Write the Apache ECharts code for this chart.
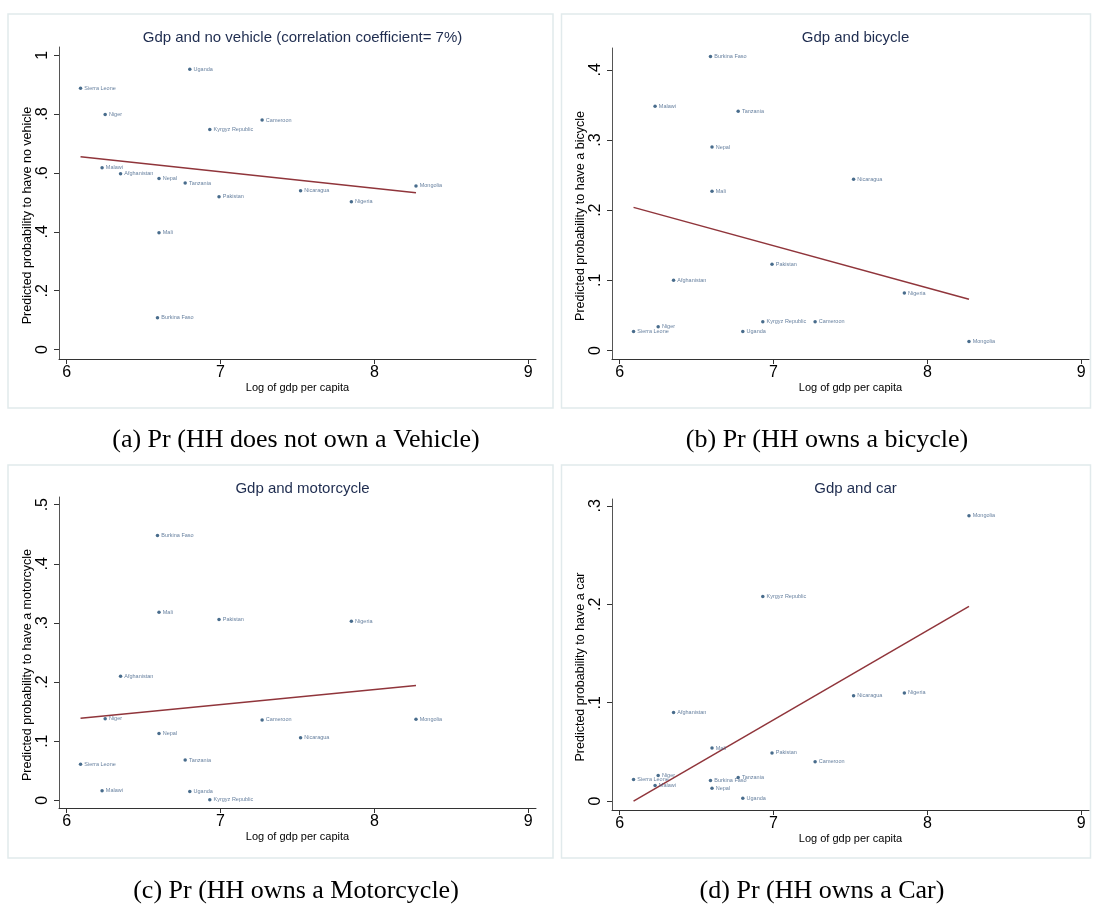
<!DOCTYPE html>
<html>
<head>
<meta charset="utf-8">
<script src="https://cdn.jsdelivr.net/npm/echarts@6/dist/echarts.min.js"></script>
<style>
  html, body { margin: 0; padding: 0; background: #fff; }
  #chart { width: 1094px; height: 905px; }
</style>
</head>
<body>
<div id="chart"></div>
<script>
// countries, log of gdp per capita (x), and predicted probabilities (y)
const countries = ['Afghanistan', 'Burkina Faso', 'Cameroon', 'Kyrgyz Republic', 'Malawi', 'Mali', 'Mongolia',
  'Nepal', 'Nicaragua', 'Niger', 'Nigeria', 'Pakistan', 'Sierra Leone', 'Tanzania', 'Uganda']
const logGdp = [6.35, 6.59, 7.27, 6.93, 6.23, 6.60, 8.27, 6.60, 7.52, 6.25, 7.85, 6.99, 6.09, 6.77, 6.80]
const pNoVehicle = [0.597, 0.108, 0.780, 0.748, 0.618, 0.397, 0.556, 0.581, 0.540, 0.799, 0.502, 0.519, 0.888, 0.566, 0.952]
const pBicycle = [0.100, 0.419, 0.041, 0.041, 0.348, 0.227, 0.013, 0.290, 0.244, 0.034, 0.082, 0.123, 0.027, 0.341, 0.027]
const pMotorcycle = [0.210, 0.448, 0.136, 0.001, 0.016, 0.318, 0.137, 0.113, 0.106, 0.138, 0.303, 0.306, 0.061, 0.068, 0.015]
const pCar = [0.090, 0.021, 0.040, 0.208, 0.016, 0.054, 0.290, 0.013, 0.107, 0.026, 0.110, 0.049, 0.022, 0.024, 0.003]

// fitted lines: endpoints at the lowest and highest gdp
const fitX = [6.09, 8.27]
const fitNoVehicle = [0.655, 0.533]
const fitBicycle = [0.204, 0.073]
const fitMotorcycle = [0.139, 0.194]
const fitCar = [0.0, 0.198]

// tick labels
const xTicks = [6, 7, 8, 9]
const yTicksNoVehicle = [0, 0.2, 0.4, 0.6, 0.8, 1]
const yTicksBicycle = [0, 0.1, 0.2, 0.3, 0.4]
const yTicksMotorcycle = [0, 0.1, 0.2, 0.3, 0.4, 0.5]
const yTicksCar = [0, 0.1, 0.2, 0.3]

const panels = [
  {
    title: 'Gdp and no vehicle (correlation coefficient= 7%)', yName: 'Predicted probability to have no vehicle',
    caption: '(a) Pr (HH does not own a Vehicle)', values: pNoVehicle, fit: fitNoVehicle, yTicks: yTicksNoVehicle,
    grid: { left: 59, top: 47, width: 477, height: 312 }, yMin: -0.032, yMax: 1.028,
    frame: { x: 8, y: 14, width: 545, height: 394 }, titleY: 25, captionX: 291, captionY: 422,
  },
  {
    title: 'Gdp and bicycle', yName: 'Predicted probability to have a bicycle',
    caption: '(b) Pr (HH owns a bicycle)', values: pBicycle, fit: fitBicycle, yTicks: yTicksBicycle,
    grid: { left: 612, top: 48, width: 477, height: 311 }, yMin: -0.012, yMax: 0.431,
    frame: { x: 561.5, y: 14, width: 529, height: 394 }, titleY: 25, captionX: 822, captionY: 422,
  },
  {
    title: 'Gdp and motorcycle', yName: 'Predicted probability to have a motorcycle',
    caption: '(c) Pr (HH owns a Motorcycle)', values: pMotorcycle, fit: fitMotorcycle, yTicks: yTicksMotorcycle,
    grid: { left: 59, top: 497, width: 477, height: 311 }, yMin: -0.013, yMax: 0.513,
    frame: { x: 8, y: 465, width: 545, height: 393 }, titleY: 476, captionX: 291, captionY: 873,
  },
  {
    title: 'Gdp and car', yName: 'Predicted probability to have a car',
    caption: '(d) Pr (HH owns a Car)', values: pCar, fit: fitCar, yTicks: yTicksCar,
    grid: { left: 612, top: 499, width: 477, height: 311 }, yMin: -0.009, yMax: 0.307,
    frame: { x: 561.5, y: 465, width: 529, height: 393 }, titleY: 476, captionX: 817, captionY: 873,
  },
]

const sans = 'Liberation Sans, Arial, sans-serif'
const fmtTick = (v) => (v === 0 ? '0' : String(+v.toFixed(2)).replace(/^0/, ''))

const chart = echarts.init(document.getElementById('chart'), null, { renderer: 'canvas' })

const option = {
  backgroundColor: '#fff',
  animation: false,
  graphic: panels.map((p) => ({
    type: 'rect', z: -10, silent: true,
    shape: p.frame,
    style: { fill: '#fff', stroke: '#e1eaec', lineWidth: 1.5 },
  })),
  title: panels.flatMap((p) => [
    {
      text: p.title, left: p.grid.left + p.grid.width / 2, top: p.titleY, textAlign: 'center',
      textStyle: { fontFamily: sans, fontSize: 15, fontWeight: 'normal', color: '#1e2c4f' },
    },
    {
      text: p.caption, left: p.captionX, top: p.captionY, textAlign: 'center',
      textStyle: { fontFamily: 'Liberation Serif, Times New Roman, serif', fontSize: 26, fontWeight: 'normal', color: '#000' },
    },
  ]),
  grid: panels.map((p) => ({ ...p.grid, containLabel: false })),
  xAxis: panels.map((p, i) => ({
    type: 'value', gridIndex: i, min: 5.95, max: 9.05,
    name: 'Log of gdp per capita', nameLocation: 'middle', nameGap: 23,
    nameTextStyle: { fontFamily: sans, fontSize: 11, color: '#000' },
    axisLine: { onZero: false, lineStyle: { color: '#333', width: 1 } },
    axisTick: { customValues: xTicks, length: 5, lineStyle: { color: '#333' } },
    axisLabel: { customValues: xTicks, fontFamily: sans, fontSize: 16, color: '#000', margin: 6 },
    splitLine: { show: false },
  })),
  yAxis: panels.map((p, i) => ({
    type: 'value', gridIndex: i, min: p.yMin, max: p.yMax,
    name: p.yName, nameLocation: 'middle', nameGap: 19,
    nameTextStyle: { fontFamily: sans, fontSize: 12.5, color: '#000', padding: [0, 25, 0, 0] },
    axisLine: { onZero: false, lineStyle: { color: '#555', width: 1 } },
    axisTick: { customValues: p.yTicks, length: 5, lineStyle: { color: '#333' } },
    axisLabel: { customValues: p.yTicks, rotate: 90, fontFamily: sans, fontSize: 16, color: '#000', margin: 8, formatter: fmtTick },
    splitLine: { show: false },
  })),
  series: panels.flatMap((p, i) => [
    {
      type: 'scatter', xAxisIndex: i, yAxisIndex: i,
      data: countries.map((c, k) => [logGdp[k], p.values[k], c]),
      symbol: 'circle', symbolSize: 3.5,
      itemStyle: { color: '#1a476f' },
      label: {
        show: true, position: 'right', distance: 2, formatter: (d) => d.data[2],
        fontFamily: sans, fontSize: 5.5, color: '#3f5f86',
      },
      emphasis: { disabled: true },
      z: 3,
    },
    {
      type: 'line', xAxisIndex: i, yAxisIndex: i,
      data: fitX.map((x, k) => [x, p.fit[k]]),
      symbol: 'none',
      lineStyle: { color: '#90353b', width: 1.5 },
      z: 2,
    },
  ]),
}

chart.setOption(option)
</script>
</body>
</html>
